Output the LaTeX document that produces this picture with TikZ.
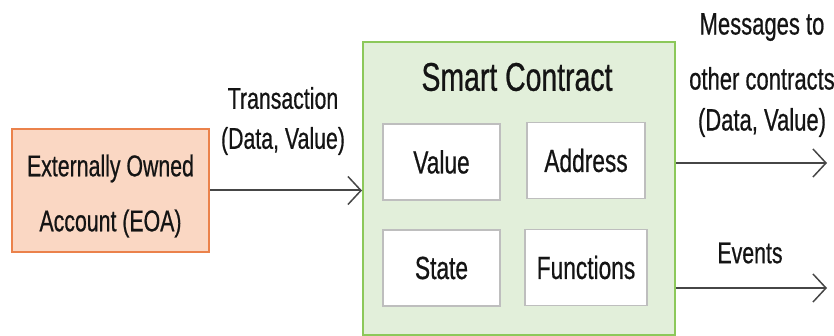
\documentclass[tikz,border=0pt]{standalone}
\usepackage{fontspec}
\setmainfont{Liberation Sans}[FakeStretch=0.71,FakeBold=0.6]
\usetikzlibrary{arrows.meta}
\definecolor{eoafill}{RGB}{250,215,195}
\definecolor{eoaline}{RGB}{235,130,75}
\definecolor{scfill}{RGB}{226,239,218}
\definecolor{scline}{RGB}{140,200,90}
\definecolor{partline}{RGB}{190,190,190}
\definecolor{arrowline}{RGB}{70,70,70}
\definecolor{textcol}{RGB}{20,20,20}

\begin{document}
\begin{tikzpicture}[x=1pt,y=-1pt,
        part/.style={draw=partline,fill=white,line width=1.5pt,minimum width=117pt,minimum height=76pt,text=textcol,font=\fontsize{32}{38}\selectfont},
        msg/.style={draw=arrowline,line width=2pt,-{Straight Barb[length=13pt,width=28pt,line width=1.5pt]}},
        lbl/.style={align=center,text=textcol,inner sep=0pt}]
                    \useasboundingbox (0,0) rectangle (834,336);
                    \node[draw=eoaline,fill=eoafill,line width=2.5pt,minimum width=197pt,minimum height=123pt] (eoa) at (110.5,190.5) {};
                    \node[lbl,font=\fontsize{30}{55}\selectfont] (eoatext) at (110.5,196) {Externally Owned\\Account (EOA)};
                    \node[draw=scline,fill=scfill,line width=2pt,minimum width=312pt,minimum height=293pt] (sc) at (519,188.5) {};
                    \node[lbl,font=\fontsize{40}{46}\selectfont] (title) at (517,77) {Smart Contract};
                    \node[part] (value) at (441.5,162) {Value};
                    \node[part,minimum width=118pt] (address) at (586,160.5) {Address};
                    \node[part] (state) at (441.5,268) {State};
                    \node[part,minimum width=122pt] (functions) at (586,267.5) {Functions};
                    \coordinate (msgend) at (827,163);
                    \coordinate (evend) at (827,288);
                    \draw[msg] (eoa.east) -- (eoa.east -| sc.west);
                    \draw[msg] (sc.east |- msgend) -- (msgend);
                    \draw[msg] (sc.east |- evend) -- (evend);
                    \node[lbl,font=\fontsize{30}{40}\selectfont] (txlabel) at (283,121) {Transaction\\(Data, Value)};
                    \node[lbl,anchor=north,font=\fontsize{31}{41}\selectfont] (msglabel) at (762,13) {Messages to\\[14pt]other contracts\\(Data, Value)};
                    \node[lbl,font=\fontsize{30}{34}\selectfont] (evlabel) at (750,253) {Events};
                \end{tikzpicture}
\end{document}
